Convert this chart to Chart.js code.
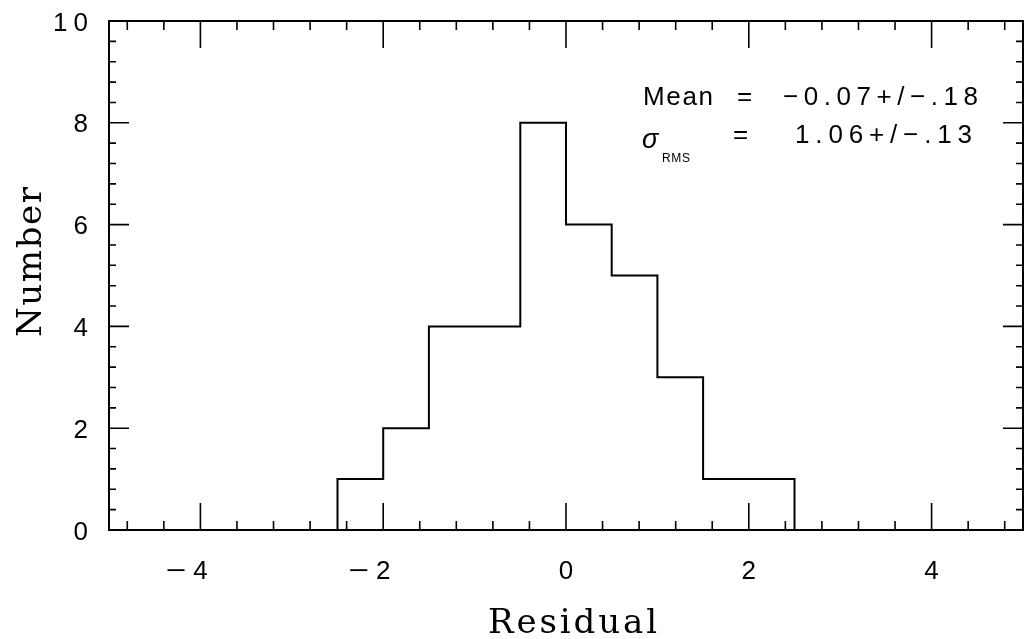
<!DOCTYPE html>
<html>
<head>
<meta charset="utf-8">
<script src="https://cdn.jsdelivr.net/npm/chart.js@4.4.1/dist/chart.umd.min.js"></script>
<style>
  html, body { margin: 0; padding: 0; background: #fff; }
  #wrap { width: 1025px; height: 639px; position: relative; }
</style>
</head>
<body>
<div id="wrap"><canvas id="histChart"></canvas></div>
<script>
// -----------------------
// Data
// -----------------------
const binEdges = [-2.5, -2, -1.5, -1, -0.5, 0, 0.5, 1, 1.5, 2, 2.5];
const counts = [1, 2, 4, 4, 8, 6, 5, 3, 1, 1];
const xRange = [-5, 5];
const yRange = [0, 10];
const xMajorTicks = [-4, -2, 0, 2, 4];
const yMajorTicks = [0, 2, 4, 6, 8, 10];
const minorStep = 0.4;
const statsLines = [
  { label: 'Mean', value: '\u22120.07+/\u2212.18' },
  { label: '\u03C3', sub: 'RMS', value: '1.06+/\u2212.13' }
];
const xTitle = 'Residual';
const yTitle = 'Number';

// histogram outline: rise at first edge, steps, drop at last edge
const outline = [{ x: binEdges[0], y: 0 }];
counts.forEach((c, i) => outline.push({ x: binEdges[i], y: c }));
outline.push({ x: binEdges[binEdges.length - 1], y: 0 });

const SANS = '"Liberation Sans", Arial, sans-serif';
const SERIF = '"DejaVu Serif", serif';

// draw text left-aligned, stretched with letter spacing to a given width
function fitText(ctx, text, left, base, width) {
  ctx.letterSpacing = '0px';
  const w = ctx.measureText(text).width;
  const n = [...text].length;
  const ls = n > 1 ? (width - w) / (n - 1) : 0;
  ctx.letterSpacing = ls + 'px';
  ctx.textAlign = 'left';
  ctx.fillText(text, left, base);
  ctx.letterSpacing = '0px';
}

// -----------------------
// Frame, inward ticks, labels, titles
// -----------------------
const framePlugin = {
  id: 'frame',
  afterDraw(chart) {
    const ctx = chart.ctx;
    const { left, right, top, bottom } = chart.chartArea;
    const xs = chart.scales.x, ys = chart.scales.y;
    ctx.save();
    ctx.strokeStyle = '#000';
    ctx.fillStyle = '#000';
    ctx.lineWidth = 2;
    ctx.strokeRect(left, top, right - left, bottom - top);

    // x ticks (bottom and top)
    ctx.lineWidth = 1.6;
    for (let k = Math.ceil(xRange[0] / minorStep); k <= Math.floor(xRange[1] / minorStep); k++) {
      const v = +(k * minorStep).toFixed(2);
      const px = xs.getPixelForValue(v);
      const len = xMajorTicks.includes(v) ? 27 : 9;
      ctx.beginPath();
      ctx.moveTo(px, bottom); ctx.lineTo(px, bottom - len);
      ctx.moveTo(px, top); ctx.lineTo(px, top + len);
      ctx.stroke();
    }
    // y ticks (left and right)
    for (let k = 1; k < Math.round(yRange[1] / minorStep); k++) {
      const v = +(k * minorStep).toFixed(2);
      const py = ys.getPixelForValue(v);
      const len = yMajorTicks.includes(v) ? 20 : 7;
      ctx.beginPath();
      ctx.moveTo(left, py); ctx.lineTo(left + len, py);
      ctx.moveTo(right, py); ctx.lineTo(right - len, py);
      ctx.stroke();
    }

    // y tick labels
    ctx.font = '26px ' + SANS;
    ctx.textBaseline = 'alphabetic';
    yMajorTicks.forEach(v => {
      const py = ys.getPixelForValue(v);
      const s = String(v);
      if (s.length > 1) {
        fitText(ctx, s, 53, py + 9.5, 35);
      } else {
        ctx.textAlign = 'right';
        ctx.fillText(s, 88, py + 9.5);
      }
    });

    // x tick labels: digit centred on tick, minus hanging to the left
    xMajorTicks.forEach(v => {
      const px = xs.getPixelForValue(v);
      const digit = String(Math.abs(v));
      const dw = ctx.measureText(digit).width;
      ctx.textAlign = 'left';
      ctx.fillText(digit, px - dw / 2, 579);
      if (v < 0) {
        ctx.save();
        ctx.translate(px - dw / 2 - 7, 579);
        ctx.scale(1.35, 1);
        ctx.textAlign = 'right';
        ctx.fillText('\u2212', 0, 0);
        ctx.restore();
      }
    });

    // stats box
    ctx.font = '26px ' + SANS;
    fitText(ctx, statsLines[0].label, 643, 104.5, 70);
    fitText(ctx, '=', 737, 104.5, 18);
    fitText(ctx, statsLines[0].value, 783, 104.5, 195);
    ctx.font = 'italic 27px ' + SANS;
    ctx.textAlign = 'left';
    ctx.fillText(statsLines[1].label, 642, 148);
    ctx.font = '12px ' + SANS;
    fitText(ctx, statsLines[1].sub, 662, 162, 28);
    ctx.font = '26px ' + SANS;
    fitText(ctx, '=', 733, 143, 19);
    fitText(ctx, statsLines[1].value, 795, 143, 177);

    // axis titles
    ctx.font = '34px ' + SERIF;
    fitText(ctx, xTitle, 488, 633, 169);
    ctx.save();
    ctx.translate(41, 337);
    ctx.rotate(-Math.PI / 2);
    fitText(ctx, yTitle, 0, 0, 150);
    ctx.restore();

    ctx.restore();
  }
};

new Chart(document.getElementById('histChart'), {
  type: 'line',
  data: {
    datasets: [{
      data: outline,
      stepped: true,
      borderColor: '#000',
      borderWidth: 2,
      borderJoinStyle: 'miter',
      pointRadius: 0,
      fill: false
    }]
  },
  options: {
    responsive: true,
    maintainAspectRatio: false,
    animation: false,
    layout: { padding: { left: 109, right: 2, top: 21, bottom: 109 } },
    plugins: { legend: { display: false }, tooltip: { enabled: false } },
    scales: {
      x: { type: 'linear', min: xRange[0], max: xRange[1], display: false },
      y: { type: 'linear', min: yRange[0], max: yRange[1], display: false }
    }
  },
  plugins: [framePlugin]
});
</script>
</body>
</html>
